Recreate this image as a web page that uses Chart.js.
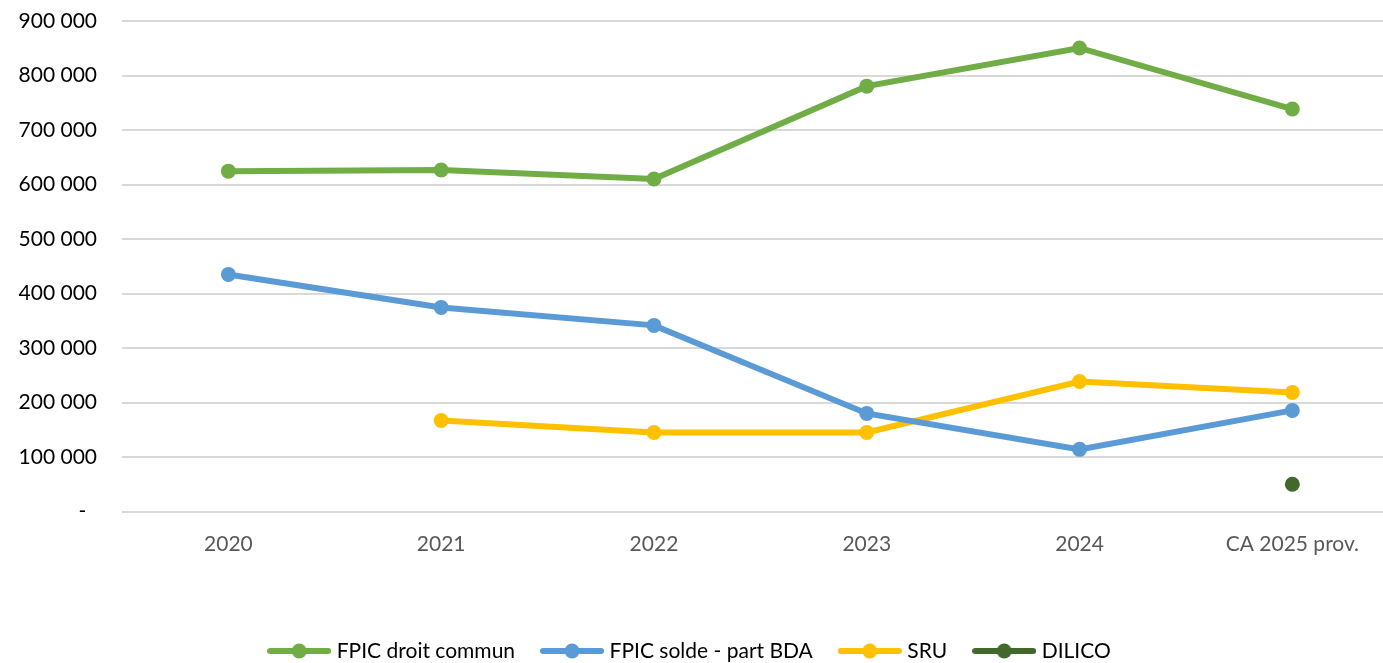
<!DOCTYPE html>
<html>
<head>
<meta charset="utf-8">
<title>FPIC / SRU / DILICO</title>
<script src="https://cdn.jsdelivr.net/npm/chart.js@4"></script>
<style>
  html, body { margin: 0; padding: 0; background: #fff; overflow: hidden; }
  #wrap { width: 1383px; height: 663px; overflow: hidden; }
  #inner { width: 1383px; height: 675px; position: relative; }
</style>
</head>
<body>
<div id="wrap"><div id="inner"><canvas id="dotationsChart"></canvas></div></div>
<script>
// Years on the x axis
const categories = ['2020', '2021', '2022', '2023', '2024', 'CA 2025 prov.'];

// Amounts in euros, null where the series has no value
const fpicDroitCommun = [624500, 626500, 610000, 780500, 850500, 738500];
const fpicSoldeBda = [435000, 374500, 341500, 180000, 114000, 185500];
const sru = [null, 167000, 145000, 145000, 238500, 218500];
const dilico = [null, null, null, null, null, 50000];

const yTicks = [0, 100000, 200000, 300000, 400000, 500000, 600000, 700000, 800000, 900000];

const FONT = 'Lato, "Open Sans", sans-serif';

const toPoints = arr => arr.map((v, i) => ({ x: i, y: v }));

// accounting style: thousands split by spaces, zero shown as a dash
const fmt = v => v === 0 ? '-  ' : String(v).replace(/\B(?=(\d{3})+(?!\d))/g, ' ');

// Legend glyph: short thick line with a dot in the middle
const legendIcon = color => {
    const c = document.createElement('canvas');
    c.width = 64; c.height = 18;
    const g = c.getContext('2d');
    g.strokeStyle = color;
    g.lineWidth = 6;
    g.lineCap = 'round';
    g.beginPath();
    g.moveTo(3, 9);
    g.lineTo(61, 9);
    g.stroke();
    g.fillStyle = color;
    g.beginPath();
    g.arc(32, 9, 7.5, 0, Math.PI * 2);
    g.fill();
    return c;
};

const series = [
    { label: 'FPIC droit commun', data: fpicDroitCommun, color: '#70ad47' },
    { label: 'FPIC solde - part BDA', data: fpicSoldeBda, color: '#5b9bd5' },
    { label: 'SRU', data: sru, color: '#ffc000' },
    { label: 'DILICO', data: dilico, color: '#43682b' }
];

const ctx = document.getElementById('dotationsChart').getContext('2d');

new Chart(ctx, {
    type: 'line',
    data: {
        datasets: series.map(s => ({
            label: s.label,
            data: toPoints(s.data),
            borderColor: s.color,
            backgroundColor: s.color,
            borderWidth: 6,
            pointRadius: 7.5,
            pointHoverRadius: 7.5,
            pointBorderWidth: 0,
            spanGaps: false,
            clip: false,
            tension: 0
        }))
    },
    options: {
        responsive: true,
        maintainAspectRatio: false,
        animation: false,
        events: [],
        layout: {
            autoPadding: false,
            padding: { top: 21, right: 0, bottom: 3.5, left: 0 }
        },
        plugins: {
            tooltip: { enabled: false },
            legend: {
                position: 'bottom',
                labels: {
                    usePointStyle: true,
                    pointStyleWidth: 54,
                    padding: 30,
                    color: '#000',
                    font: { family: FONT, size: 21 },
                    generateLabels: chart => series.map((s, i) => ({
                        text: s.label,
                        pointStyle: legendIcon(s.color),
                        fillStyle: s.color,
                        strokeStyle: s.color,
                        lineWidth: 0,
                        hidden: false,
                        datasetIndex: i
                    }))
                }
            }
        },
        scales: {
            x: {
                type: 'linear',
                min: -0.5,
                max: 5.426,
                afterBuildTicks: scale => {
                    scale.ticks = categories.map((_, i) => ({ value: i }));
                },
                afterFit: scale => {
                    scale.height = 99;
                    scale.paddingLeft = 0;
                    scale.paddingRight = 0;
                },
                grid: { display: false, drawTicks: false },
                border: { display: false },
                ticks: {
                    padding: 20,
                    color: '#595959',
                    font: { family: FONT, size: 21 },
                    maxRotation: 0,
                    autoSkip: false,
                    callback: v => categories[v] ?? ''
                }
            },
            y: {
                min: 0,
                max: 900000,
                afterBuildTicks: scale => {
                    scale.ticks = yTicks.map(v => ({ value: v }));
                },
                afterFit: scale => {
                    scale.width = 122;
                    scale.paddingTop = 0;
                    scale.paddingBottom = 0;
                },
                grid: { color: '#d9d9d9', lineWidth: 2, drawTicks: false },
                border: { display: false },
                ticks: {
                    padding: 25,
                    color: '#000',
                    font: { family: FONT, size: 21 },
                    callback: v => fmt(v)
                }
            }
        }
    }
});
</script>
</body>
</html>
